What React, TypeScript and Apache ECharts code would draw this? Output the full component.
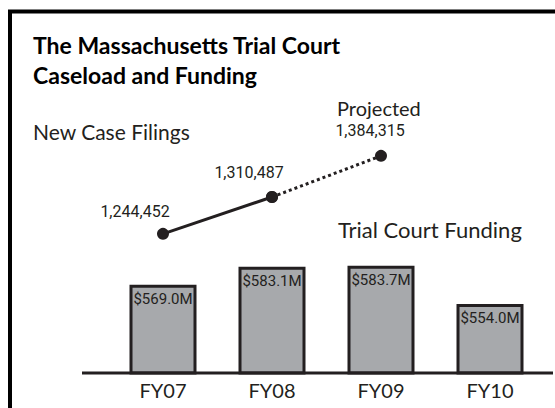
import React, { useEffect, useRef } from "react";
import * as echarts from "echarts";

const categories = ["FY07", "FY08", "FY09", "FY10"];
const fundingValues = [569.0, 583.1, 583.7, 554.0];
const fundingLabels = ["$569.0M", "$583.1M", "$583.7M", "$554.0M"];
const filingsActual = [1244452, 1310487, null, null];
const filingsProjected = [null, 1310487, 1384315, null];
const filingOffsets = [[-28, -22], [-23, -25], [-11, -25]];

const TEXT = "#231f20";
const REG = "Lato, 'Open Sans', sans-serif";
const NARROW = "Roboto, 'Liberation Sans', sans-serif";

const fmt = (v: number) => v.toLocaleString("en-US");

export default function App() {
  const ref = useRef<HTMLDivElement>(null);
  useEffect(() => {
    document.body.style.margin = "0";
    const chart = echarts.init(ref.current!, null, { renderer: "svg" });
    const labelFor = (i: number) => ({
      show: true,
      position: "inside",
      offset: filingOffsets[i],
      fontFamily: NARROW,
      fontSize: 16,
      color: TEXT,
      formatter: (p: any) => fmt(p.value),
    });
    chart.setOption({
      animation: false,
      grid: { left: 108.5, right: 10.5, top: 117, bottom: 35 },
      xAxis: {
        type: "category",
        data: categories,
        axisLine: { show: false },
        axisTick: { show: false },
        axisLabel: { color: TEXT, fontFamily: REG, fontSize: 20, margin: 7 },
      },
      yAxis: [
        { type: "value", min: 500, max: 700, show: false, splitLine: { show: false } },
        { type: "value", min: 995000, max: 1454000, show: false, splitLine: { show: false } },
      ],
      graphic: [
        {
          type: "rect",
          shape: { x: 10, y: 11.5, width: 700, height: 600 },
          style: { fill: "none", stroke: "#000", lineWidth: 4 },
          silent: true,
        },
        {
          type: "line",
          shape: { x1: 82, y1: 373, x2: 553, y2: 373 },
          style: { stroke: TEXT, lineWidth: 3 },
          z: 100,
        },
        {
          type: "text",
          x: 33,
          y: 45,
          style: { text: "The Massachusetts Trial Court", fill: "#000", font: `bold 23px ${REG}`, verticalAlign: "middle" },
        },
        {
          type: "text",
          x: 33,
          y: 75,
          style: { text: "Caseload and Funding", fill: "#000", font: `bold 23px ${REG}`, verticalAlign: "middle" },
        },
        {
          type: "text",
          x: 33,
          y: 131,
          style: { text: "New Case Filings", fill: TEXT, font: `21px ${REG}`, verticalAlign: "middle" },
        },
        {
          type: "text",
          x: 337,
          y: 108,
          style: { text: "Projected", fill: TEXT, font: `20px ${REG}`, verticalAlign: "middle" },
        },
        {
          type: "text",
          x: 338,
          y: 229,
          style: { text: "Trial Court Funding", fill: TEXT, font: `22px ${REG}`, verticalAlign: "middle" },
        },
      ],
      series: [
        {
          type: "bar",
          data: fundingValues,
          barWidth: 67,
          itemStyle: { color: "#a7a9ac", borderColor: TEXT, borderWidth: 3 },
          label: {
            show: true,
            position: "insideTop",
            distance: 7,
            fontFamily: NARROW,
            fontSize: 15,
            color: TEXT,
            formatter: (p: any) => fundingLabels[p.dataIndex],
          },
        },
        {
          type: "line",
          yAxisIndex: 1,
          data: filingsActual.map((v, i) => (v == null ? null : { value: v, label: labelFor(i) })),
          symbol: "circle",
          symbolSize: 12,
          lineStyle: { color: TEXT, width: 3 },
          itemStyle: { color: TEXT },
          z: 5,
        },
        {
          type: "line",
          yAxisIndex: 1,
          data: filingsProjected.map((v, i) =>
            v == null ? null : i === 2 ? { value: v, label: labelFor(i) } : { value: v, label: { show: false } }
          ),
          symbol: "circle",
          symbolSize: 12,
          lineStyle: { color: TEXT, width: 3, type: [3, 3] },
          itemStyle: { color: TEXT },
          z: 4,
        },
      ],
    });
    return () => chart.dispose();
  }, []);
  return <div ref={ref} style={{ width: 555, height: 408 }} />;
}
